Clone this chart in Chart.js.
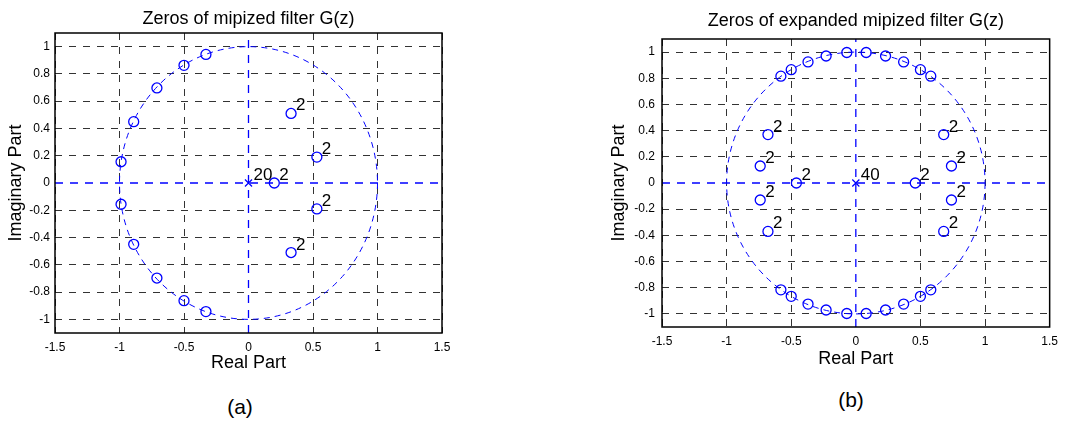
<!DOCTYPE html>
<html>
<head>
<meta charset="utf-8">
<script src="https://cdn.jsdelivr.net/npm/chart.js@4"></script>
<style>
  body { margin: 0; background: #fff; width: 1065px; height: 423px; overflow: hidden; position: relative;
         font-family: "Liberation Sans", Arial, sans-serif; }
  canvas { position: absolute; top: 0; }
  .cap { position: absolute; font-size: 21px; color: #000; transform: translate(-50%, -50%); }
</style>
</head>
<body>
<canvas id="chartA" width="470" height="385" style="left:0"></canvas>
<canvas id="chartB" width="485" height="385" style="left:580px"></canvas>
<div class="cap" style="left:240px;top:407px">(a)</div>
<div class="cap" style="left:851px;top:400px">(b)</div>
<script>
// axis limits and ticks
const xMin = -1.5, xMax = 1.5, yMin = -1.1, yMax = 1.1;
const xTicks = [-1.5, -1, -0.5, 0, 0.5, 1, 1.5];
const yTicks = [-1, -0.8, -0.6, -0.4, -0.2, 0, 0.2, 0.4, 0.6, 0.8, 1];

// (a) zeros of mipized filter
const aZeroRe = [-0.33, -0.5, -0.71, -0.89, -0.988, -0.988, -0.89, -0.71, -0.5, -0.33, 0.33, 0.53, 0.2, 0.53, 0.33];
const aZeroIm = [0.943, 0.863, 0.697, 0.45, 0.156, -0.156, -0.45, -0.697, -0.863, -0.943, 0.51, 0.19, 0, -0.19, -0.51];
const aZeroMult = [1, 1, 1, 1, 1, 1, 1, 1, 1, 1, 2, 2, 2, 2, 2];
const aPoleRe = [0], aPoleIm = [0], aPoleMult = [20];

// (b) zeros of expanded mipized filter
const bZeroRe = [-0.58, -0.5, -0.37, -0.23, -0.07, 0.08, 0.23, 0.37, 0.5, 0.58,
                 -0.58, -0.5, -0.37, -0.23, -0.07, 0.08, 0.23, 0.37, 0.5, 0.58,
                 -0.68, -0.74, -0.46, -0.74, -0.68, 0.68, 0.74, 0.46, 0.74, 0.68];
const bZeroIm = [0.816, 0.866, 0.925, 0.97, 0.997, 0.997, 0.97, 0.925, 0.866, 0.816,
                 -0.816, -0.866, -0.925, -0.97, -0.997, -0.997, -0.97, -0.925, -0.866, -0.816,
                 0.37, 0.13, 0, -0.13, -0.37, 0.37, 0.13, 0, -0.13, -0.37];
const bZeroMult = [1, 1, 1, 1, 1, 1, 1, 1, 1, 1, 1, 1, 1, 1, 1, 1, 1, 1, 1, 1,
                   2, 2, 2, 2, 2, 2, 2, 2, 2, 2];
const bPoleRe = [0], bPoleIm = [0], bPoleMult = [40];

const BLUE = '#0000ff';
const GRID = '#333';
Chart.defaults.font.family = '"Liberation Sans", Arial, sans-serif';
Chart.defaults.color = '#000';

const toPts = (re, im) => re.map((v, i) => ({x: v, y: im[i]}));
// the zero lines are drawn in blue by the datasets, so no black grid there
const gridColor = c => (c.tick && c.tick.value === 0 ? 'rgba(0,0,0,0)' : GRID);

// dashed unit circle
const unitCircle = {
    id: 'unitCircle',
    beforeDatasetsDraw(chart) {
        const {ctx, chartArea, scales: {x, y}} = chart;
        const cx = x.getPixelForValue(0), cy = y.getPixelForValue(0);
        const rx = x.getPixelForValue(1) - cx, ry = cy - y.getPixelForValue(1);
        ctx.save();
        ctx.beginPath();
        ctx.rect(chartArea.left, chartArea.top, chartArea.width, chartArea.height);
        ctx.clip();
        ctx.strokeStyle = BLUE;
        ctx.lineWidth = 1;
        ctx.setLineDash([6, 5]);
        ctx.beginPath();
        ctx.ellipse(cx, cy, rx, ry, 0, 0, Math.PI * 2);
        ctx.stroke();
        ctx.restore();
    }
};

// box around plot + multiplicity labels
const boxAndLabels = {
    id: 'boxAndLabels',
    afterDatasetsDraw(chart) {
        const {ctx, chartArea: a} = chart;
        ctx.save();
        ctx.strokeStyle = '#000';
        ctx.lineWidth = 1.5;
        ctx.strokeRect(a.left, a.top, a.width, a.height);
        ctx.fillStyle = '#000';
        ctx.font = '17px "Liberation Sans", Arial, sans-serif';
        ctx.textBaseline = 'alphabetic';
        chart.data.datasets.forEach((ds, i) => {
            if (!ds.mult) return;
            chart.getDatasetMeta(i).data.forEach((el, j) => {
                if (ds.mult[j] > 1) ctx.fillText(String(ds.mult[j]), el.x + 5, el.y - 3);
            });
        });
        ctx.restore();
    }
};

function makeChart(id, opt) {
    new Chart(document.getElementById(id), {
        type: 'scatter',
        data: {
            datasets: [
                {data: [{x: xMin, y: 0}, {x: xMax, y: 0}], showLine: true, borderColor: BLUE,
                 borderWidth: 1.3, borderDash: [8, 7], pointRadius: 0},
                {data: [{x: 0, y: yMin}, {x: 0, y: yMax}], showLine: true, borderColor: BLUE,
                 borderWidth: 1.3, borderDash: [8, 7], pointRadius: 0},
                {data: toPts(opt.zeroRe, opt.zeroIm), mult: opt.zeroMult, pointStyle: 'circle',
                 pointRadius: 5, borderColor: BLUE, backgroundColor: 'rgba(0,0,0,0)', borderWidth: 1.3},
                {data: toPts(opt.poleRe, opt.poleIm), mult: opt.poleMult, pointStyle: 'crossRot',
                 pointRadius: 5, borderColor: BLUE, borderWidth: 1.2}
            ]
        },
        options: {
            responsive: false,
            animation: false,
            layout: {padding: {left: 0, right: opt.padRight, top: 0, bottom: 0}},
            plugins: {
                legend: {display: false},
                tooltip: {enabled: false},
                title: {
                    display: true, text: opt.title, fullSize: false,
                    font: {size: 18, weight: 'normal'}, color: '#000',
                    padding: {top: opt.titleTop, bottom: opt.titleBottom}
                }
            },
            scales: {
                x: {
                    type: 'linear', min: xMin, max: xMax,
                    afterBuildTicks: s => { s.ticks = xTicks.map(v => ({value: v})); },
                    afterFit: s => { s.height = opt.xAxisH; },
                    ticks: {autoSkip: false, maxRotation: 0, padding: 7, font: {size: 12}, color: '#000',
                            callback: v => String(v)},
                    grid: {color: gridColor, lineWidth: 1, drawTicks: false},
                    border: {display: false, dash: [7, 7]},
                    title: {display: true, text: 'Real Part', font: {size: 18}, color: '#000',
                            padding: {top: 0, bottom: opt.xTitlePad}}
                },
                y: {
                    type: 'linear', min: yMin, max: yMax,
                    afterBuildTicks: s => { s.ticks = yTicks.map(v => ({value: v})); },
                    afterFit: s => { s.width = opt.yAxisW; },
                    ticks: {autoSkip: false, padding: opt.yTickPad, font: {size: 12}, color: '#000',
                            callback: v => String(v)},
                    grid: {color: gridColor, lineWidth: 1, drawTicks: false},
                    border: {display: false, dash: [7, 7]},
                    title: {display: true, text: 'Imaginary Part', font: {size: 18}, color: '#000',
                            padding: {top: opt.yTitlePad, bottom: 0}}
                }
            }
        },
        plugins: [unitCircle, boxAndLabels]
    });
}

makeChart('chartA', {
    title: 'Zeros of mipized filter G(z)',
    zeroRe: aZeroRe, zeroIm: aZeroIm, zeroMult: aZeroMult,
    poleRe: aPoleRe, poleIm: aPoleIm, poleMult: aPoleMult,
    padRight: 28, titleTop: 8.2, titleBottom: 3.2,
    xAxisH: 52, xTitlePad: 11.2, yAxisW: 55, yTickPad: 5, yTitlePad: 5.7
});

makeChart('chartB', {
    title: 'Zeros of expanded mipized filter G(z)',
    zeroRe: bZeroRe, zeroIm: bZeroIm, zeroMult: bZeroMult,
    poleRe: bPoleRe, poleIm: bPoleIm, poleMult: bPoleMult,
    padRight: 9, titleTop: 10.7, titleBottom: 6.7,
    xAxisH: 58, xTitlePad: 15.2, yAxisW: 82, yTickPad: 7, yTitlePad: 28.2
});
</script>
</body>
</html>
